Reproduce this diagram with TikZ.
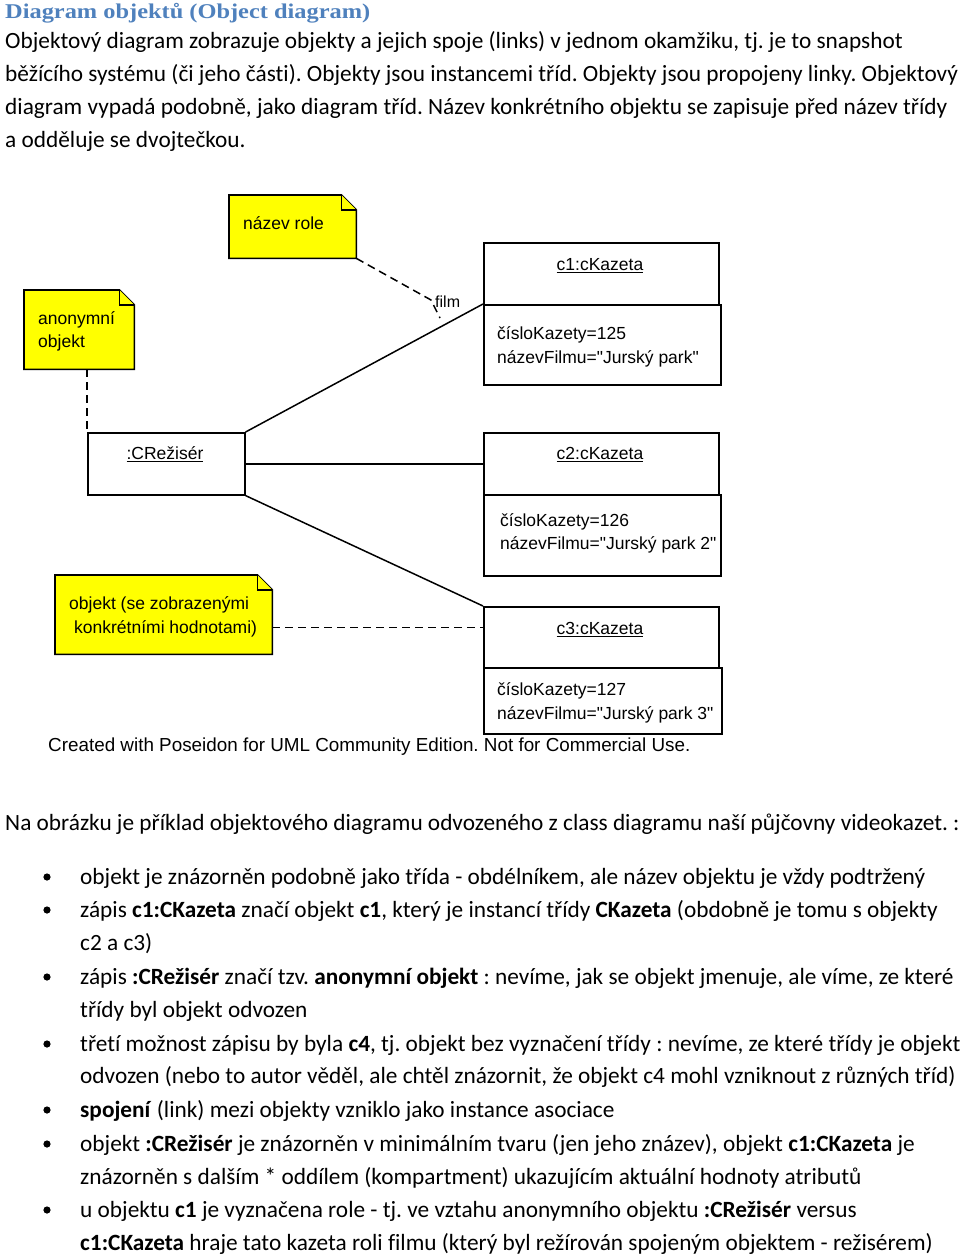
\documentclass[tikz,border=0pt]{standalone}
\usepackage{fontspec}
\usepackage{graphicx}
\setmainfont{Carlito}[Ligatures=NoCommon]
\newfontfamily\diagf{Liberation Sans}[Ligatures=NoCommon]
\newfontfamily\titlef{Liberation Serif}
\definecolor{titleblue}{HTML}{4F81BD}
\definecolor{noteyellow}{HTML}{FFFF00}
\frenchspacing
\tikzset{
  body/.style={anchor=base west, inner sep=0pt, font=\fontsize{23.3}{28}\selectfont},
  dtext/.style={inner sep=0pt, anchor=mid west, font=\diagf\fontsize{17.5}{21}\selectfont},
  dtitle/.style={inner sep=0pt, anchor=mid, font=\diagf\fontsize{17.5}{21}\selectfont},
  objbox/.style={draw, line width=1.6pt, inner sep=0pt, anchor=north west},
  notebg/.style={inner sep=0pt, anchor=north west},
  notefill/.style={fill=noteyellow, draw, line width=1.6pt},
  link/.style={line width=1.5pt},
  notelink/.style={line width=1.5pt, dash pattern=on 8pt off 5pt},
  bulletdot/.style={fill=black}
}
\newcommand{\drawnote}[1]{%
  \draw[notefill] (#1.north west) -- ([xshift=-15pt]#1.north east) -- ([yshift=-15pt]#1.north east) -- (#1.south east) -- (#1.south west) -- cycle;
  \draw[line width=1.2pt, fill=noteyellow] ([xshift=-15pt]#1.north east) -- ([xshift=-15pt,yshift=-15pt]#1.north east) -- ([yshift=-15pt]#1.north east);}
\begin{document}
\begin{tikzpicture}[x=1pt,y=-1pt]
\useasboundingbox (0,0) rectangle (960,1256);
\fill[white] (0,0) rectangle (960,1256);

% ---- heading and intro text
\node[body, text=titleblue, font=\titlef\bfseries\fontsize{21}{25}\selectfont] (title) at (5,18) {\resizebox{365pt}{\height}{Diagram objektů (Object diagram)}};
\node[body] (l2) at (5,48) {Objektový diagram zobrazuje objekty a jejich spoje (links) v jednom okamžiku, tj. je to snapshot};
\node[body] (l3) at (5,81) {běžícího systému (či jeho části). Objekty jsou instancemi tříd. Objekty jsou propojeny linky. Objektový};
\node[body] (l4) at (5,114) {diagram vypadá podobně, jako diagram tříd. Název konkrétního objektu se zapisuje před název třídy};
\node[body] (l5) at (5,147) {a odděluje se dvojtečkou.};

% ---- notes
\node[notebg, minimum width=127pt, minimum height=63pt] (role) at (229,195) {};
\drawnote{role}
\node[dtext] (roletext) at (243,227) {název role};

\node[notebg, minimum width=110pt, minimum height=79pt] (anon) at (24,290) {};
\drawnote{anon}
\node[dtext] (anontext1) at (38,322) {anonymní};
\node[dtext] (anontext2) at (38,345) {objekt};

\node[notebg, minimum width=217pt, minimum height=79pt] (obj) at (55,575) {};
\drawnote{obj}
\node[dtext] (objtext1) at (69,607) {objekt (se zobrazenými};
\node[dtext] (objtext2) at (74,631) {konkrétními hodnotami)};

% ---- objects
\node[objbox, minimum width=157pt, minimum height=62pt] (rez) at (87,432) {};
\node[dtitle] (reztitle) at (165,457) {\underline{:CRežisér}};

\node[objbox, minimum width=235pt, minimum height=62pt] (c1t) at (483,242) {};
\node[objbox, minimum width=237pt, minimum height=80pt] (c1b) at (483,304) {};
\node[dtitle] (c1name) at (600,268) {\underline{c1:cKazeta}};
\node[dtext] (c1a1) at (497,337) {čísloKazety=125};
\node[dtext] (c1a2) at (497,361) {názevFilmu="Jurský park"};

\node[objbox, minimum width=235pt, minimum height=62pt] (c2t) at (483,432) {};
\node[objbox, minimum width=237pt, minimum height=81pt] (c2b) at (483,494) {};
\node[dtitle] (c2name) at (600,457) {\underline{c2:cKazeta}};
\node[dtext] (c2a1) at (500,524) {čísloKazety=126};
\node[dtext] (c2a2) at (500,547) {názevFilmu="Jurský park 2"};

\node[objbox, minimum width=235pt, minimum height=61pt] (c3t) at (483,606) {};
\node[objbox, minimum width=238pt, minimum height=66pt] (c3b) at (483,667) {};
\node[dtitle] (c3name) at (600,632) {\underline{c3:cKazeta}};
\node[dtext] (c3a1) at (497,693) {čísloKazety=127};
\node[dtext] (c3a2) at (497,717) {názevFilmu="Jurský park 3"};

% ---- links
\draw[link] (rez.north east) -- (c1b.north west);
\draw[link] (rez.east) -- (c2t.west);
\draw[link] (rez.south east) -- (c3t.north west);

\node[dtext, font=\diagf\fontsize{16}{19}\selectfont] (film) at (435,305) {film};
\coordinate (rolebend) at (431,300);
\coordinate (roleend) at (440,318);
\draw[notelink] (role.south east) -- (rolebend) -- (roleend);
\draw[notelink] (rez.north west |- anon.south) -- (rez.north west);
\draw[notelink] ([yshift=2pt]c3name.west -| obj.east) -- ([yshift=2pt]c3name.west -| c3t.west);

\node[dtext, font=\diagf\fontsize{18.85}{22}\selectfont] (credit) at (48,749) {Created with Poseidon for UML Community Edition. Not for Commercial Use.};

% ---- explanation
\node[body] (p1) at (5,830) {Na obrázku je příklad objektového diagramu odvozeného z class diagramu naší půjčovny videokazet. :};

\foreach \yy in {884,917,984,1051,1117,1151,1217} \fill[bulletdot] (47,\yy-7) circle (3.6);

\node[body] (b1) at (80,884) {objekt je znázorněn podobně jako třída - obdélníkem, ale název objektu je vždy podtržený};
\node[body] (b2a) at (80,917) {zápis \textbf{c1:CKazeta} značí objekt \textbf{c1}, který je instancí třídy \textbf{CKazeta} (obdobně je tomu s objekty};
\node[body] (b2b) at (80,950) {c2 a c3)};
\node[body] (b3a) at (80,984) {zápis \textbf{:CRežisér} značí tzv. \textbf{anonymní objekt} : nevíme, jak se objekt jmenuje, ale víme, ze které};
\node[body] (b3b) at (80,1017) {třídy byl objekt odvozen};
\node[body] (b4a) at (80,1051) {třetí možnost zápisu by byla \textbf{c4}, tj. objekt bez vyznačení třídy : nevíme, ze které třídy je objekt};
\node[body] (b4b) at (80,1083) {odvozen (nebo to autor věděl, ale chtěl znázornit, že objekt c4 mohl vzniknout z různých tříd)};
\node[body] (b5) at (80,1117) {\textbf{spojení} (link) mezi objekty vzniklo jako instance asociace};
\node[body] (b6a) at (80,1151) {objekt \textbf{:CRežisér} je znázorněn v minimálním tvaru (jen jeho znázev), objekt \textbf{c1:CKazeta} je};
\node[body] (b6b) at (80,1184) {znázorněn s dalším * oddílem (kompartment) ukazujícím aktuální hodnoty atributů};
\node[body] (b7a) at (80,1217) {u objektu \textbf{c1} je vyznačena role - tj. ve vztahu anonymního objektu \textbf{:CRežisér} versus};
\node[body] (b7b) at (80,1250) {\textbf{c1:CKazeta} hraje tato kazeta roli filmu (který byl režírován spojeným objektem - režisérem)};
\end{tikzpicture}
\end{document}
